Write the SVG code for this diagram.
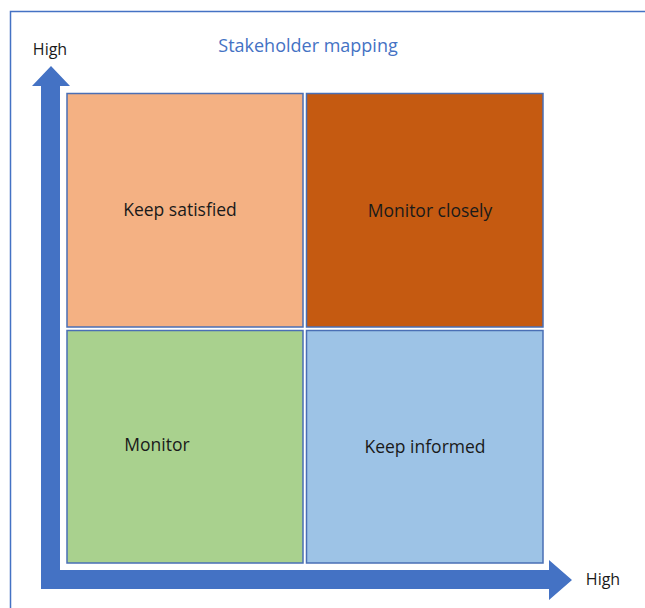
<svg xmlns="http://www.w3.org/2000/svg" width="645" height="608" viewBox="0 0 645 608">
<style>
.q{stroke:#4A6FB5;stroke-width:1.5}
.t{font-family:"Open Sans","Liberation Sans",sans-serif;font-size:17.5px;fill:#1a1a1a}
.ax{fill:#4472C4}
</style>
<rect width="645" height="608" fill="#fff"/>
<path d="M10.5 608 V11.5 H645" fill="none" stroke="#4472C4" stroke-width="1.5"/>
<text x="308" y="52" text-anchor="middle" font-family="'Open Sans','Liberation Sans',sans-serif" font-size="18" fill="#4472C4">Stakeholder mapping</text>
<text x="50" y="55" text-anchor="middle" class="t" style="font-size:16px">High</text>
<text x="603" y="585" text-anchor="middle" class="t" style="font-size:16px">High</text>
<g id="connectors">
<path class="ax" d="M41 589 V86 H32 L51 66 L70 86 H60 V570 H549 V560 L572 580 L549 600 V589 Z"/>
</g>
<g id="keep-satisfied"><rect class="q" x="67" y="93.5" width="236" height="233.5" fill="#F4B183"/><text class="t" x="180" y="216" text-anchor="middle">Keep satisfied</text></g>
<g id="monitor-closely"><rect class="q" x="306.5" y="93.5" width="236.5" height="233.5" fill="#C55A11"/><text class="t" x="430" y="217" text-anchor="middle">Monitor closely</text></g>
<g id="monitor"><rect class="q" x="67" y="330.5" width="236" height="232.5" fill="#A9D18E"/><text class="t" x="157" y="451" text-anchor="middle">Monitor</text></g>
<g id="keep-informed"><rect class="q" x="306.5" y="330.5" width="236.5" height="232.5" fill="#9DC3E6"/><text class="t" x="425" y="453" text-anchor="middle">Keep informed</text></g>
</svg>
